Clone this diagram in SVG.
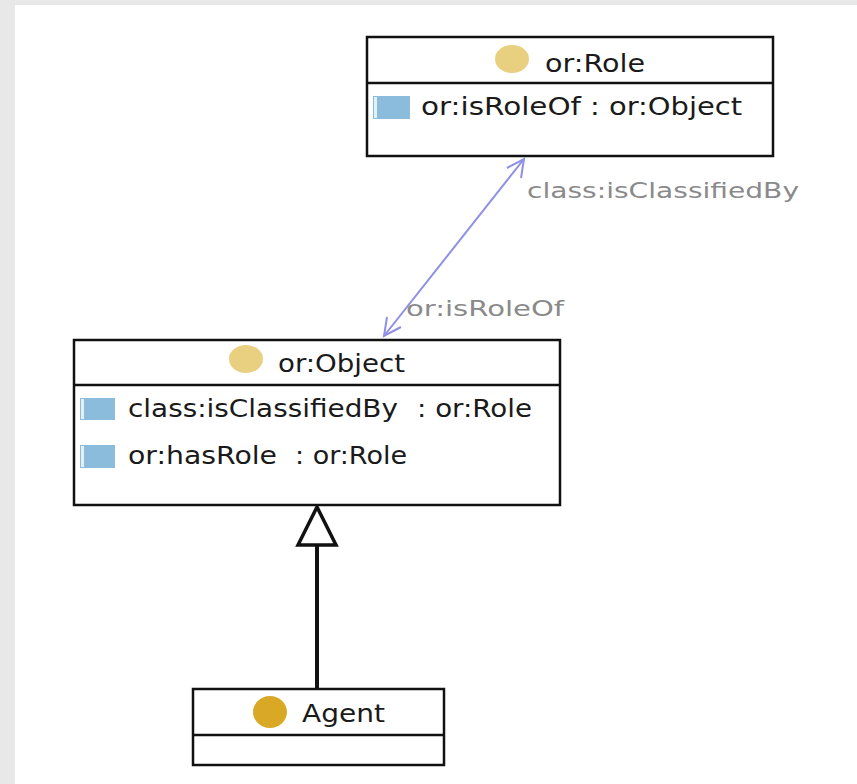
<svg xmlns="http://www.w3.org/2000/svg" width="857" height="784" viewBox="0 0 857 784">
<style>
.box{fill:#ffffff;stroke:#111111;stroke-width:2.5}
.sep{stroke:#111111;stroke-width:2.5}
.t{font-family:"DejaVu Sans","Liberation Sans",sans-serif;font-size:24px;fill:#1a1a1a}
.lbl{font-family:"DejaVu Sans","Liberation Sans",sans-serif;font-size:22px;fill:#8a8a8a}
.cls{fill:#e9cf80}
.attr{fill:#8cbcdc}
.attrL{fill:#e4f0f8}
.assoc{stroke:#8f8fe6;stroke-width:2;fill:none}
</style>
<rect x="0" y="0" width="857" height="784" fill="#e8e8e8"/>
<rect x="15" y="5" width="842" height="779" fill="#ffffff"/>
<g id="connectors">
<line class="assoc" x1="524" y1="159" x2="384" y2="336"/>
<polyline class="assoc" points="507,168 524,159 521,178"/>
<polyline class="assoc" points="387,317 384,336 401,327"/>
<text class="lbl" x="527" y="198" textLength="272" lengthAdjust="spacingAndGlyphs">class:isClassifiedBy</text>
<text class="lbl" x="406" y="316" textLength="158" lengthAdjust="spacingAndGlyphs">or:isRoleOf</text>
<line x1="317" y1="689" x2="317" y2="545" stroke="#111111" stroke-width="4"/>
<polygon points="317,507 298,545 336,545" fill="#ffffff" stroke="#111111" stroke-width="3.5" stroke-linejoin="miter"/>
</g>
<g id="role">
<rect class="box" x="367" y="37" width="406" height="119"/>
<line class="sep" x1="367" y1="83" x2="773" y2="83"/>
<ellipse class="cls" cx="512" cy="59" rx="17" ry="14"/>
<text class="t" x="545" y="72" textLength="100" lengthAdjust="spacingAndGlyphs">or:Role</text>
<rect class="attr" x="373" y="96" width="37" height="23"/>
<rect class="attrL" x="374" y="97" width="3" height="21"/>
<text class="t" x="421" y="115" textLength="160" lengthAdjust="spacingAndGlyphs">or:isRoleOf</text>
<text class="t" x="590" y="115" textLength="152" lengthAdjust="spacingAndGlyphs">: or:Object</text>
</g>
<g id="object">
<rect class="box" x="74" y="340" width="486" height="165"/>
<line class="sep" x1="74" y1="385" x2="560" y2="385"/>
<ellipse class="cls" cx="246" cy="359" rx="17" ry="14"/>
<text class="t" x="278" y="372" textLength="127" lengthAdjust="spacingAndGlyphs">or:Object</text>
<rect class="attr" x="80" y="398" width="35" height="22"/>
<rect class="attrL" x="81" y="399" width="3" height="20"/>
<text class="t" x="128" y="417" textLength="270" lengthAdjust="spacingAndGlyphs">class:isClassifiedBy</text>
<text class="t" x="417" y="417" textLength="115" lengthAdjust="spacingAndGlyphs">: or:Role</text>
<rect class="attr" x="80" y="445" width="35" height="23"/>
<rect class="attrL" x="81" y="446" width="3" height="21"/>
<text class="t" x="128" y="464" textLength="149" lengthAdjust="spacingAndGlyphs">or:hasRole</text>
<text class="t" x="295" y="464" textLength="112" lengthAdjust="spacingAndGlyphs">: or:Role</text>
</g>
<g id="agent">
<rect class="box" x="193" y="689" width="251" height="76"/>
<line class="sep" x1="193" y1="735" x2="444" y2="735"/>
<ellipse cx="270" cy="712" rx="17" ry="16" fill="#d9a926"/>
<text class="t" x="302" y="722" textLength="83" lengthAdjust="spacingAndGlyphs">Agent</text>
</g>
</svg>
